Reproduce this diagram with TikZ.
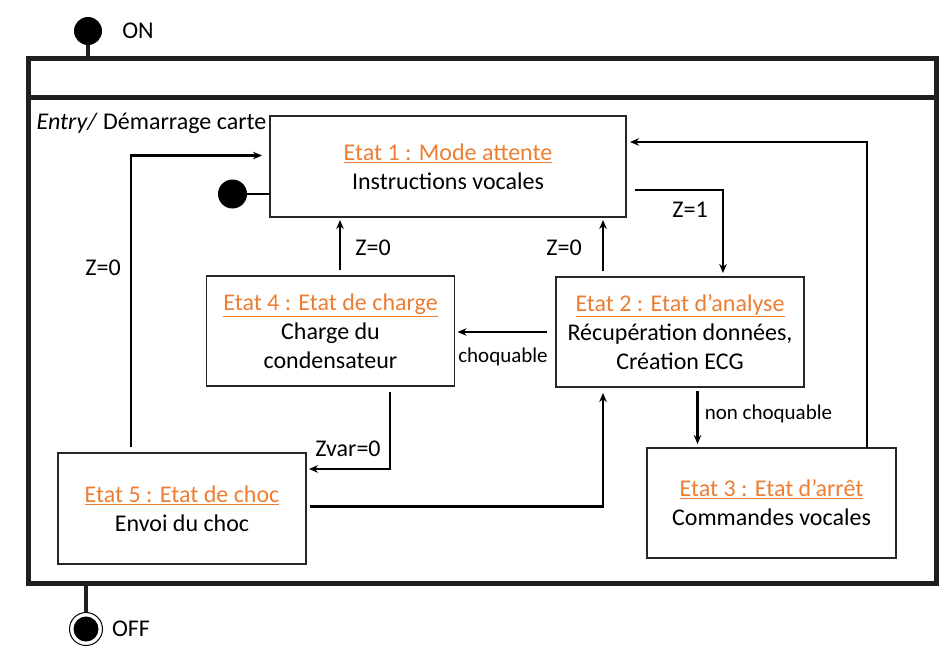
\documentclass[tikz,border=0pt]{standalone}
\usepackage{fontspec}
\setmainfont{Carlito}
\usetikzlibrary{arrows.meta,positioning}
\definecolor{orangeetat}{RGB}{237,125,49}
\tikzset{
    etat/.style={rectangle, draw=black!85, line width=1.5pt, outer sep=0pt, align=center, font=\fontsize{24}{29}\selectfont},
    cadre/.style={rectangle, draw=black!88, line width=5pt, outer sep=0pt},
    cadre line/.style={draw=black!88, line width=5pt},
    trans/.style={->, draw, line width=2.2pt},
    garde/.style={font=\fontsize{24}{29}\selectfont},
    garde small/.style={font=\fontsize{21}{25}\selectfont},
    init/.style={circle, fill=black, inner sep=0pt},
    final/.style={circle, draw, line width=1pt, minimum size=33pt, inner sep=0pt,
        path picture={\fill (path picture bounding box.center) circle (12.5pt);}},
    stem/.style={draw=black!88, line width=4pt}
}
\newcommand{\titreetat}[1]{\textcolor{orangeetat}{\underline{#1}}}

\begin{document}
\begin{tikzpicture}[x=1pt, y=-1pt, >={Stealth[length=9pt,width=7.5pt]}]
    \useasboundingbox (0,0) rectangle (949,654);
    % etat composite
    \node[cadre, minimum width=908pt, minimum height=524.5pt] (actif) at (482,320.75) {};
    \draw[cadre line] ([yshift=-38.5pt]actif.north west) -- ([yshift=-38.5pt]actif.north east);
    \node[init, minimum size=28pt] (debut) at (88,31) {};
    \draw[stem] (debut) -- (debut |- actif.north);
    \node[garde] (on) at (138,31) {ON};
    \node[final] (fin) at (86,629) {};
    \draw[stem] (fin |- actif.south) -- (fin);
    \node[garde] (off) at (131,629) {OFF};
    \node[garde, anchor=west] (entry) at (33,123) {\textit{Entry/} Démarrage carte};

    % etats
    \node[etat, minimum width=356pt, minimum height=101pt] (e1) at (448,166.5)
        {\titreetat{Etat 1 : Mode attente}\\Instructions vocales};
    \node[etat, minimum width=248pt, minimum height=110pt] (e4) at (330.5,331)
        {\titreetat{Etat 4 : Etat de charge}\\Charge du\\condensateur};
    \node[etat, minimum width=248pt, minimum height=110pt] (e2) at (680,332)
        {\titreetat{Etat 2 : Etat d’analyse}\\Récupération données,\\Création ECG};
    \node[etat, minimum width=248pt, minimum height=111pt] (e5) at (182,508.5)
        {\titreetat{Etat 5 : Etat de choc}\\Envoi du choc};
    \node[etat, minimum width=249pt, minimum height=110pt] (e3) at (771.5,503)
        {\titreetat{Etat 3 : Etat d’arrêt}\\Commandes vocales};
    \node[init, minimum size=29pt] (init1) at (232.5,194) {};
    \draw[line width=2.8pt] (init1) -- (init1 -| e1.west);

    % transitions
    \draw[trans] ([xshift=-51pt,yshift=6pt]e5.north) |- ([xshift=-8pt,yshift=11pt]e1.west);
    \draw[trans] ([xshift=9.5pt,yshift=6pt]e4.north) coordinate (a) -- ([yshift=-3pt]a |- e1.south);
    \draw[trans] ([xshift=-77pt,yshift=6pt]e2.north) coordinate (b) -- ([yshift=-3pt]b |- e1.south);
    \draw[trans] ([xshift=9pt,yshift=-23.5pt]e1.east) -| ([xshift=43pt,yshift=4pt]e2.north);
    \draw[trans] ([xshift=95.5pt]e3.north) |- ([xshift=4pt,yshift=24.5pt]e1.east);
    \draw[trans] ([xshift=-9pt]e2.west) coordinate (c) -- ([xshift=3pt]e4.east |- c);
    \draw[trans] ([xshift=59.5pt,yshift=-6pt]e4.south) |- ([xshift=3pt,yshift=39.5pt]e5.east);
    \draw[trans] ([xshift=4pt,yshift=2pt]e5.east) -| ([xshift=-77pt,yshift=-6pt]e2.south);
    \draw[trans] ([xshift=17.5pt,yshift=-4pt]e2.south) coordinate (d) -- ([yshift=4pt]d |- e3.north);

    % gardes
    \node[garde] (g51) at (103,268) {Z=0};
    \node[garde] (g41) at (373,248) {Z=0};
    \node[garde] (g21) at (564,248) {Z=0};
    \node[garde] (g12) at (690,210) {Z=1};
    \node[garde] (g45) at (348,449) {Zvar=0};
    \node[garde small] (g24) at (503,357) {choquable};
    \node[garde small] (g23) at (768.5,414) {non choquable};
\end{tikzpicture}
\end{document}
